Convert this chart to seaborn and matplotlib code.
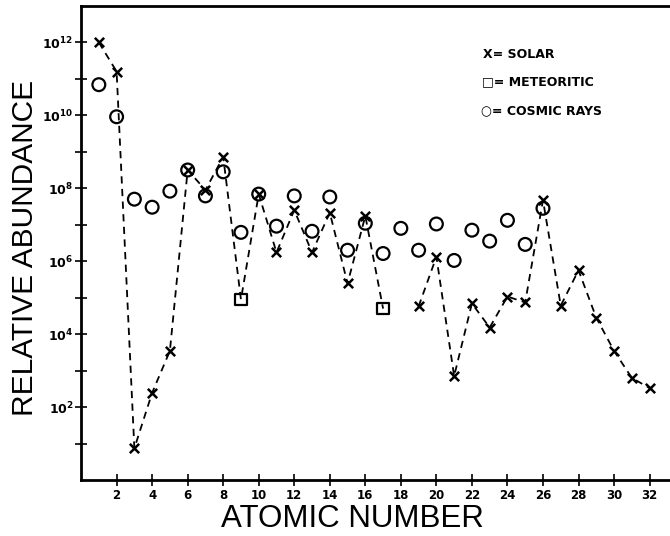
import numpy as np
import pandas as pd
import matplotlib
matplotlib.use('Agg')
import matplotlib.pyplot as plt
import seaborn as sns
from matplotlib.ticker import FixedLocator, NullFormatter

# log10 abundances
solar_z = [1, 2, 3, 4, 5, 6, 7, 8, 10, 11, 12, 13, 14, 15, 16,
           19, 20, 21, 22, 23, 24, 25, 26, 27, 28, 29, 30, 31, 32]
solar_log = [12.0, 11.2, 0.87, 2.39, 3.54, 8.5, 7.95, 8.86, 7.84, 6.24, 7.4, 6.24, 7.33, 5.39, 7.24,
             4.76, 6.12, 2.85, 4.84, 4.18, 5.03, 4.87, 7.67, 4.78, 5.75, 4.45, 3.54, 2.8, 2.52]

meteor_z = [9, 17]
meteor_log = [4.95, 4.7]

cosmic_z = list(range(1, 27))
cosmic_log = [10.84, 9.96, 7.7, 7.48, 7.92, 8.5, 7.79, 8.45, 6.79, 7.84, 6.96, 7.79, 6.82,
              7.76, 6.3, 7.04, 6.21, 6.9, 6.3, 7.02, 6.02, 6.85, 6.55, 7.12, 6.46, 7.45]

x_ticks = list(range(2, 33, 2))
y_major = [2, 4, 6, 8, 10, 12]
y_minor = [1, 3, 5, 7, 9, 11]

solar = pd.DataFrame({'z': solar_z, 'val': 10.0 ** np.array(solar_log)})
meteor = pd.DataFrame({'z': meteor_z, 'val': 10.0 ** np.array(meteor_log)})
cosmic = pd.DataFrame({'z': cosmic_z, 'val': 10.0 ** np.array(cosmic_log)})

# dashed line runs through solar + meteoritic points, broken at Z=18
line = pd.concat([solar, meteor]).sort_values('z').reset_index(drop=True)
line['seg'] = np.where(line['z'] < 18, 0, 1)

sns.set_style('ticks')
plt.rcParams['font.family'] = ['DejaVu Sans']
plt.rcParams['text.color'] = 'black'
plt.rcParams['axes.labelcolor'] = 'black'
plt.rcParams['xtick.color'] = 'black'
plt.rcParams['ytick.color'] = 'black'

fig = plt.figure(figsize=(6.7, 5.36), dpi=100)
ax = fig.add_axes([0.121, 0.1045, 0.879, 0.8845])

sns.lineplot(data=line, x='z', y='val', units='seg', estimator=None, ax=ax,
             color='black', linewidth=1.3, linestyle=(0, (4, 3)), legend=False)
sns.scatterplot(data=cosmic, x='z', y='val', ax=ax, marker='o', s=85,
                facecolors='none', edgecolor='black', linewidth=1.6)
sns.scatterplot(data=meteor, x='z', y='val', ax=ax, marker='s', s=70,
                facecolors='none', edgecolor='black', linewidth=1.6)
sns.scatterplot(data=solar, x='z', y='val', ax=ax, marker='x', s=45,
                color='black', linewidth=1.8)

ax.set_yscale('log')
ax.set_xlim(0, 33.15)
ax.set_ylim(1, 1e13)

ax.xaxis.set_major_locator(FixedLocator(x_ticks))
ax.set_xticklabels([str(t) for t in x_ticks], fontsize=8.5, fontweight='bold')

ax.yaxis.set_major_locator(FixedLocator([10.0 ** p for p in y_major]))
ax.set_yticklabels([r'$\mathbf{10^{%d}}$' % p for p in y_major], fontsize=9)
ax.yaxis.set_minor_locator(FixedLocator([10.0 ** p for p in y_minor]))
ax.yaxis.set_minor_formatter(NullFormatter())

ax.tick_params(axis='both', which='both', direction='inout', length=9, width=1.2, color='black')
ax.tick_params(axis='x', pad=2)
ax.tick_params(axis='y', pad=1)

for s in ['left', 'bottom', 'top']:
    ax.spines[s].set_linewidth(2)
    ax.spines[s].set_color('black')
ax.spines['right'].set_visible(False)

ax.set_xlabel('ATOMIC NUMBER', fontsize=22.5, family='Liberation Sans')
ax.set_ylabel('RELATIVE ABUNDANCE', fontsize=21.5, family='Liberation Sans')
ax.xaxis.set_label_coords(0.46, -0.05)
ax.yaxis.set_label_coords(-0.072, 0.49)

ax.text(0.683, 0.897, 'X= SOLAR', transform=ax.transAxes, fontsize=9, fontweight='bold', va='center')
ax.text(0.681, 0.84, '\u25a1= METEORITIC', transform=ax.transAxes, fontsize=9, fontweight='bold', va='center')
ax.text(0.679, 0.778, '\u25cb= COSMIC RAYS', transform=ax.transAxes, fontsize=9, fontweight='bold', va='center')

fig.savefig('out.png', dpi=100)
